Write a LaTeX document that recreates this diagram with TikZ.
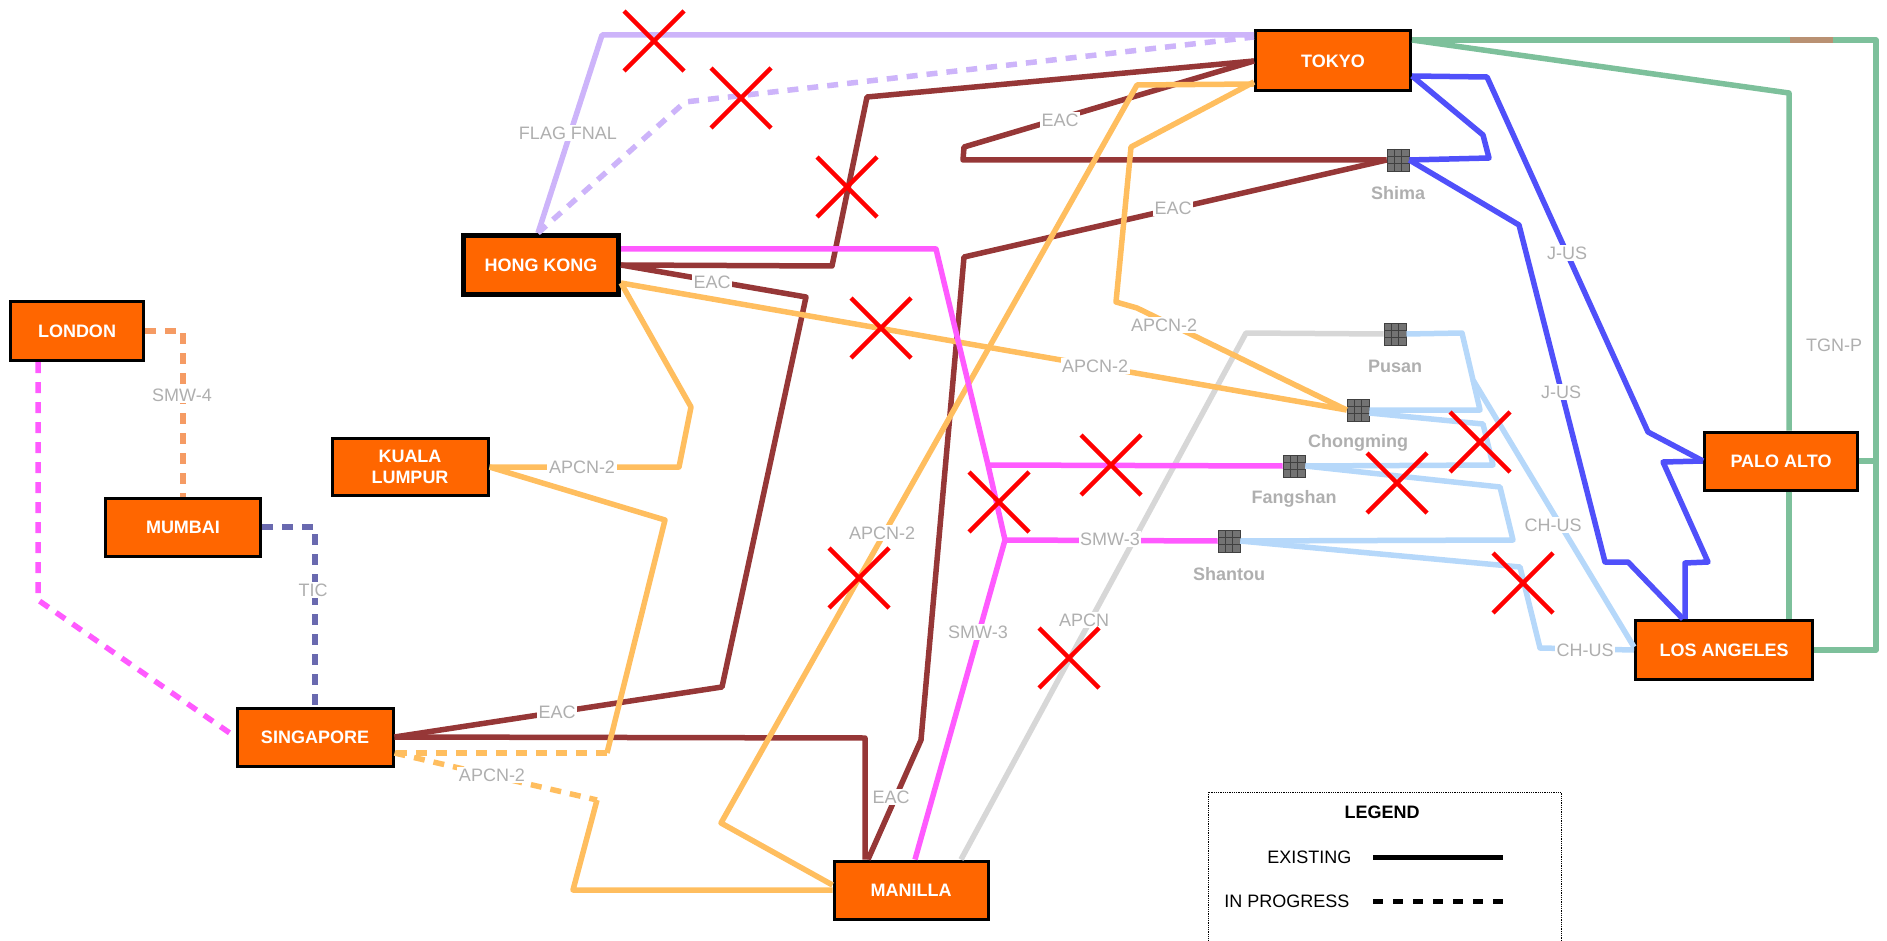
\documentclass[tikz,border=0pt]{standalone}
\usepackage{fontspec}
\setmainfont{Liberation Sans}
\usetikzlibrary{positioning}
\definecolor{cityorange}{RGB}{255,102,0}
\definecolor{labelgray}{RGB}{175,175,175}
\definecolor{flagc}{RGB}{205,180,250}
\definecolor{tgnc}{RGB}{125,192,155}
\definecolor{jusc}{RGB}{80,80,250}
\definecolor{eacc}{RGB}{150,55,55}
\definecolor{apcntwoc}{RGB}{255,190,95}
\definecolor{smwthreec}{RGB}{255,90,255}
\definecolor{smwfourc}{RGB}{245,155,100}
\definecolor{ticc}{RGB}{105,105,175}
\definecolor{chusc}{RGB}{182,216,250}
\definecolor{apcnc}{RGB}{215,215,215}
\begin{document}
\begin{tikzpicture}[x=1pt,y=-1pt,
    every node/.style={font=\fontsize{18}{21}\selectfont},
    city/.style={draw=black,line width=3pt,fill=cityorange,text=white,
      font=\fontsize{18}{21}\selectfont\bfseries,align=center,inner sep=2pt},
    junction/.style={draw=black!75,fill=black!55,line width=0.6pt,minimum size=22pt,inner sep=0pt,
      path picture={\foreach \d in {-3.7,3.7}{
        \draw[black!75,line width=0.5pt] ([xshift=\d pt]path picture bounding box.north) -- ([xshift=\d pt]path picture bounding box.south);
        \draw[black!75,line width=0.5pt] ([yshift=\d pt]path picture bounding box.east) -- ([yshift=\d pt]path picture bounding box.west);}}},
    jlabel/.style={text=labelgray,font=\fontsize{18}{21}\selectfont\bfseries,inner sep=1pt},
    cablelabel/.style={text=labelgray,fill=white,inner sep=1.5pt},
    cable/.style={line width=5.5pt,line join=round},
    future/.style={cable,dash pattern=on 11pt off 9pt},
    flagcable/.style={cable,flagc},
    tgncable/.style={cable,tgnc},
    juscable/.style={cable,jusc},
    eaccable/.style={cable,eacc},
    apcntwocable/.style={cable,apcntwoc},
    smwthreecable/.style={cable,smwthreec},
    chuscable/.style={cable,chusc},
    apcncable/.style={cable,apcnc},
    cross/.style={red,line width=4.5pt}]
    \useasboundingbox (0,0) rectangle (1887,941);

    \node[city,minimum width=133pt,minimum height=59pt] (london) at (77,331) {LONDON};
    \node[city,minimum width=155pt,minimum height=58pt] (mumbai) at (183,527) {MUMBAI};
    \node[city,minimum width=156pt,minimum height=57pt] (kl) at (410,467) {KUALA\\LUMPUR};
    \node[city,line width=5pt,minimum width=155pt,minimum height=59pt] (hk) at (541,265) {HONG KONG};
    \node[city,minimum width=156pt,minimum height=58pt] (sing) at (315,737) {SINGAPORE};
    \node[city,minimum width=154pt,minimum height=58pt] (manilla) at (911,890) {MANILLA};
    \node[city,minimum width=155pt,minimum height=60pt] (tokyo) at (1333,61) {TOKYO};
    \node[city,minimum width=153pt,minimum height=58pt] (paloalto) at (1781,461) {PALO ALTO};
    \node[city,minimum width=177pt,minimum height=59pt] (la) at (1724,650) {LOS ANGELES};

    \node[junction] (shima) at (1398,160) {};
    \node[junction] (pusan) at (1395,334) {};
    \node[junction] (chongming) at (1358,410) {};
    \node[junction] (fangshan) at (1294,466) {};
    \node[junction] (shantou) at (1229,541) {};
    \node[jlabel,below=14pt of shima] (shimaname) {Shima};
    \node[jlabel,below=14pt of pusan] (pusanname) {Pusan};
    \node[jlabel,below=12pt of chongming] (chongmingname) {Chongming};
    \node[jlabel,below=12pt of fangshan] (fangshanname) {Fangshan};
    \node[jlabel,below=14pt of shantou] (shantouname) {Shantou};

    \coordinate (tg1) at (1789,93);
    \coordinate (tg2) at (1876,40);
    \coordinate (sm1) at (988,465);
    \coordinate (sm2) at (1005,540);
    \coordinate (ch1) at (1473,380);

    \draw[apcncable] ([xshift=50pt]manilla.north) -- (1246,333) -- (pusan.west);
    \draw[chuscable] (pusan.east) -- (1462,333) -- (ch1) -- ([yshift=3pt]la.west);
    \draw[chuscable] (chongming.east) -- (1480,410) -- (ch1);
    \draw[chuscable] ([yshift=-3pt]chongming.east) -- (1483,424) -- (1493,465) -- (fangshan.east);
    \draw[chuscable] (fangshan.east) -- (1500,487) -- (1513,540) -- (shantou.east);
    \draw[chuscable] (shantou.east) -- (1520,567) -- (1540,648) -- (la.west);

    \draw[flagcable] ([xshift=-3pt]hk.north) -- (602,35) -- ([yshift=26pt]tokyo.west);
    \draw[flagcable,future] ([xshift=-3pt]hk.north) -- (685,102) -- ([yshift=24pt]tokyo.west);

    \draw[tgncable] ([yshift=21pt]tokyo.east) -- (tg2) |- (la.east);
    \draw[tgncable] ([yshift=21pt]tokyo.east) -- (tg1) -- (tg1 |- paloalto.north);
    \draw[tgncable] (tg1 |- paloalto.south) -- (tg1 |- la.north);
    \draw[tgncable] (paloalto.east) -- (paloalto.east -| tg2);
    \draw[cable,color={rgb,255:red,185;green,145;blue,115}] (1790,40) -- (1833,40);

    \draw[juscable] ([yshift=-15pt]tokyo.east) -- (1487,77) -- (1648,432) -- (paloalto.west);
    \draw[juscable] (paloalto.west) -- (1663,462) -- (1708,562) -- (1685,563) -- ([xshift=-39pt]la.north);
    \draw[juscable] ([yshift=-15pt]tokyo.east) -- (1483,135) -- (1489,158) -- (shima.east);
    \draw[juscable] (shima.east) -- (1519,225) -- (1605,562) -- (1628,562) -- ([xshift=-41pt]la.north);

    \draw[eaccable] (hk.east) -- (832,266) -- (867,97) -- (tokyo.west);
    \draw[eaccable] (tokyo.west) -- (964,147) -- (963,160) -- (shima.west);
    \draw[eaccable] (shima.west) -- (964,257) -- (921,740) -- ([xshift=-43pt]manilla.north);
    \draw[eaccable] (hk.east) -- (806,297) -- (722,687) -- (sing.east);
    \draw[eaccable] (sing.east) -- (865,738) -- ([xshift=-46pt]manilla.north);

    \draw[apcntwocable] ([yshift=-18pt]hk.east) -- (691,407) -- (679,467) -- (kl.east);
    \draw[apcntwocable] ([yshift=-18pt]hk.east) -- (chongming.west);
    \draw[apcntwocable] (kl.east) -- (665,520) -- (607,753);
    \draw[apcntwocable,future] (607,753) -- ([yshift=-16pt]sing.east);
    \draw[apcntwocable,future] ([yshift=-16pt]sing.east) -- (597,800);
    \draw[apcntwocable] (597,800) -- (573,890) -- (manilla.west);
    \draw[apcntwocable] ([yshift=5pt]manilla.west) -- (721,823) -- (1137,85) -- ([yshift=-23pt]tokyo.west);
    \draw[apcntwocable] ([yshift=-21pt]tokyo.west) -- (1131,147) -- (1116,302) -- (1137,308) -- (chongming.west);

    \draw[smwthreecable] ([yshift=16pt]hk.east) -- (936,249) -- (sm1) -- (sm2) -- ([xshift=4pt]manilla.north);
    \draw[smwthreecable] (sm1) -- (fangshan.west);
    \draw[smwthreecable] (sm2) -- (shantou.west);
    \draw[smwthreecable,future] ([xshift=-39pt]london.south) -- ++(0,238) -- (sing.west);
    \draw[future,smwfourc] (london.east) -| (mumbai.north);
    \draw[future,ticc] (mumbai.east) -| (sing.north);

    \node[cablelabel] (lflag) at (568,133) {FLAG FNAL};
    \node[cablelabel] (ltgnp) at (1834,345) {TGN-P};
    \node[cablelabel] (ljusa) at (1567,253) {J-US};
    \node[cablelabel] (ljusb) at (1561,392) {J-US};
    \node[cablelabel] (leaca) at (1060,120) {EAC};
    \node[cablelabel] (leacb) at (1173,208) {EAC};
    \node[cablelabel] (leacc) at (712,282) {EAC};
    \node[cablelabel] (leacd) at (557,712) {EAC};
    \node[cablelabel] (leace) at (891,797) {EAC};
    \node[cablelabel] (lapcntwoa) at (582,467) {APCN-2};
    \node[cablelabel] (lapcntwob) at (1095,366) {APCN-2};
    \node[cablelabel] (lapcntwoc) at (1164,325) {APCN-2};
    \node[cablelabel] (lapcntwod) at (492,775) {APCN-2};
    \node[cablelabel] (lapcntwoe) at (882,533) {APCN-2};
    \node[cablelabel] (lsmwthreea) at (1110,539) {SMW-3};
    \node[cablelabel] (lsmwthreeb) at (978,632) {SMW-3};
    \node[cablelabel] (lsmwfour) at (182,395) {SMW-4};
    \node[cablelabel] (ltic) at (313,590) {TIC};
    \node[cablelabel] (lchusa) at (1553,525) {CH-US};
    \node[cablelabel] (lchusb) at (1585,650) {CH-US};
    \node[cablelabel] (lapcn) at (1084,620) {APCN};

    \foreach \p in {(654,41),(741,98),(847,187),(881,328),(859,578),(1111,465),
                    (999,502),(1480,442),(1397,483),(1523,583),(1069,658)}
      \draw[cross] \p ++(-30,-30) -- ++(60,60) ++(-60,0) -- ++(60,-60);

    \draw[densely dotted,line width=0.8pt] (1208,792) rectangle (1561,960);
    \node[font=\fontsize{18}{21}\selectfont\bfseries] (legendtitle) at (1382,812) {LEGEND};
    \node[anchor=east] (existing) at (1355,857) {EXISTING};
    \node[anchor=east] (inprogress) at (1353,901) {IN PROGRESS};
    \draw[line width=5pt] ([xshift=18pt]existing.east) -- ++(130,0);
    \draw[line width=5pt,dash pattern=on 10pt off 10pt] ([xshift=20pt]inprogress.east) -- ++(132,0);
\end{tikzpicture}
\end{document}
